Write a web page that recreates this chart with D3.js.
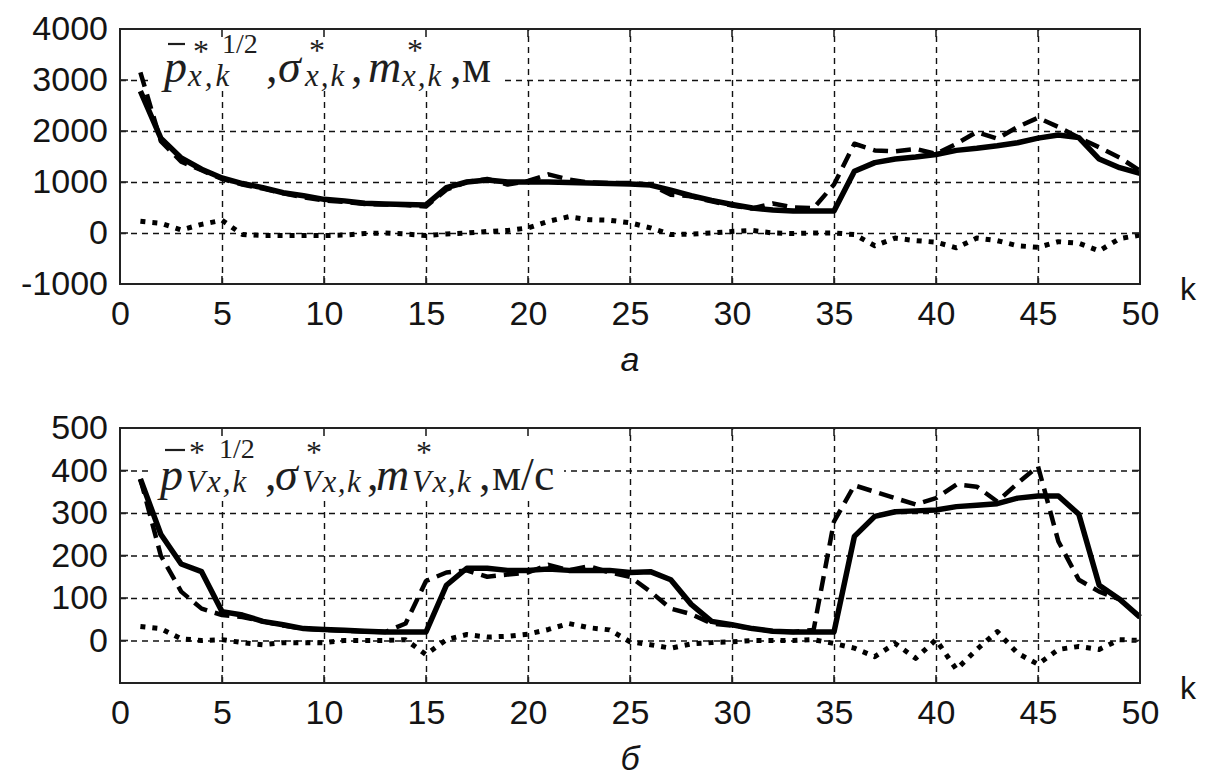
<!DOCTYPE html>
<html>
<head>
<meta charset="utf-8">
<script src="https://cdn.jsdelivr.net/npm/d3@7"></script>
<style>
  body { margin: 0; background: #fff; }
  svg { display: block; }
  .axis text { font-family: Arial, "Liberation Sans", sans-serif; font-size: 34px; fill: #141414; }
  .note { font-family: "Liberation Serif", "Times New Roman", serif; fill: #1e1e1e; }
</style>
</head>
<body>
<div id="chart"></div>
<script>
// k steps
const kSteps = [1, 2, 3, 4, 5, 6, 7, 8, 9, 10, 11, 12, 13, 14, 15, 16, 17, 18, 19, 20,
  21, 22, 23, 24, 25, 26, 27, 28, 29, 30, 31, 32, 33, 34, 35, 36, 37, 38, 39, 40,
  41, 42, 43, 44, 45, 46, 47, 48, 49, 50];

// panel a (coordinate x, m)
const posSolid = [2780, 1860, 1470, 1250, 1080, 970, 890, 790, 730, 660, 630, 585, 570, 560, 550, 890, 1000, 1040, 1000, 1000,
  1000, 990, 980, 970, 960, 940, 840, 730, 640, 560, 490, 450, 430, 430, 430, 1210, 1380, 1450, 1490, 1540,
  1620, 1660, 1710, 1770, 1860, 1920, 1870, 1450, 1280, 1170];
const posDashed = [3150, 1800, 1400, 1230, 1060, 950, 870, 780, 700, 640, 610, 570, 560, 550, 520, 850, 1000, 1060, 950, 1020,
  1150, 1050, 990, 980, 980, 950, 750, 720, 620, 540, 480, 580, 500, 490, 950, 1750, 1620, 1600, 1650, 1550,
  1750, 1980, 1850, 2080, 2260, 2080, 1870, 1680, 1480, 1220];
const posDotted = [230, 190, 60, 170, 250, -30, -50, -50, -50, -50, -40, -10, 0, -20, -50, -20, 0, 30, 50, 100,
  230, 320, 260, 250, 200, 100, -30, -20, 0, 30, 50, 0, -10, 0, 0, -30, -250, -100, -150, -180,
  -290, -100, -150, -250, -280, -170, -200, -350, -110, -40];

// panel b (velocity Vx, m/s)
const velSolid = [380, 250, 180, 162, 68, 60, 45, 37, 28, 26, 24, 22, 20, 20, 20, 130, 170, 170, 165, 165,
  168, 165, 165, 165, 160, 162, 143, 85, 45, 37, 28, 22, 20, 20, 20, 245, 292, 303, 305, 307,
  315, 318, 322, 335, 340, 340, 297, 130, 97, 55];
const velDashed = [380, 200, 115, 75, 60, 55, 45, 35, 28, 25, 23, 21, 20, 40, 140, 160, 165, 150, 155, 160,
  178, 165, 175, 160, 150, 115, 75, 62, 40, 35, 28, 22, 20, 25, 280, 365, 350, 335, 320, 335,
  367, 362, 327, 370, 410, 233, 143, 115, 97, 55];
const velDotted = [33, 28, 4, 0, 2, -5, -10, -5, -5, -5, 0, 0, 0, 2, -33, 2, 14, 8, 10, 15,
  26, 40, 30, 25, -3, -10, -18, -8, -5, -3, 0, 0, 0, 2, -7, -18, -38, -7, -42, 2,
  -68, -21, 21, -30, -56, -21, -14, -21, 2, 0];

const xTicks = [0, 5, 10, 15, 20, 25, 30, 35, 40, 45, 50];
const posTicks = [-1000, 0, 1000, 2000, 3000, 4000];
const velTicks = [0, 100, 200, 300, 400, 500];

const Width = 1205;
const Height = 776;
const Left = 120;
const Right = 1140;
const PlotH = 255;

const svg = d3.select('#chart')
  .append('svg')
  .attr('width', Width)
  .attr('height', Height);

const x = d3.scaleLinear().domain([0, 50]).range([Left, Right]);

const lineStyles = [
  { width: 5.5, dash: null },
  { width: 4.5, dash: '15,8' },
  { width: 5, dash: '5,7' }
];

function drawPanel(top, yDomain, yTicks, series, box, note, bar, caption) {
  const y = d3.scaleLinear().domain(yDomain).range([top + PlotH, top]);
  const g = svg.append('g');

  // dashed grid
  g.append('g')
    .attr('transform', `translate(0, ${top + PlotH})`)
    .call(d3.axisBottom(x).tickValues(xTicks.slice(1, -1)).tickSize(-PlotH).tickFormat(''))
    .call(s => s.select('.domain').remove())
    .selectAll('line')
    .attr('stroke', '#111').attr('stroke-width', 1.4).attr('stroke-dasharray', '6,5');
  g.append('g')
    .attr('transform', `translate(${Left}, 0)`)
    .call(d3.axisLeft(y).tickValues(yTicks.filter(v => v > yDomain[0] && v < yDomain[1])).tickSize(-(Right - Left)).tickFormat(''))
    .call(s => s.select('.domain').remove())
    .selectAll('line')
    .attr('stroke', '#111').attr('stroke-width', 1.4).attr('stroke-dasharray', '6,5');

  // white label box
  g.append('rect')
    .attr('x', box.x).attr('y', top + 1)
    .attr('width', box.w).attr('height', box.h)
    .attr('fill', '#fff');

  // curves
  series.forEach((vals, i) => {
    const line = d3.line()
      .x((d, j) => x(kSteps[j]))
      .y(d => y(d));
    g.append('path')
      .datum(vals)
      .attr('d', line)
      .attr('fill', 'none')
      .attr('stroke', '#000')
      .attr('stroke-width', lineStyles[i].width)
      .attr('stroke-linejoin', 'round')
      .attr('stroke-dasharray', lineStyles[i].dash);
  });

  // inward ticks on all four sides
  const tickLen = 8;
  const tk = g.append('g').attr('stroke', '#222').attr('stroke-width', 1.6);
  xTicks.forEach(v => {
    tk.append('line').attr('x1', x(v)).attr('x2', x(v)).attr('y1', top + PlotH).attr('y2', top + PlotH - tickLen);
    tk.append('line').attr('x1', x(v)).attr('x2', x(v)).attr('y1', top).attr('y2', top + tickLen);
  });
  yTicks.forEach(v => {
    tk.append('line').attr('x1', Left).attr('x2', Left + tickLen).attr('y1', y(v)).attr('y2', y(v));
    tk.append('line').attr('x1', Right).attr('x2', Right - tickLen).attr('y1', y(v)).attr('y2', y(v));
  });

  // box
  g.append('rect')
    .attr('x', Left).attr('y', top)
    .attr('width', Right - Left).attr('height', PlotH)
    .attr('fill', 'none').attr('stroke', '#222').attr('stroke-width', 2);

  // tick labels
  g.append('g')
    .attr('class', 'axis')
    .attr('transform', `translate(0, ${top + PlotH})`)
    .call(d3.axisBottom(x).tickValues(xTicks).tickSize(0).tickPadding(17).tickFormat(d => String(d)))
    .call(s => s.select('.domain').remove());
  g.append('g')
    .attr('class', 'axis')
    .attr('transform', `translate(${Left}, 0)`)
    .call(d3.axisLeft(y).tickValues(yTicks).tickSize(0).tickPadding(12).tickFormat(d => String(d)))
    .call(s => s.select('.domain').remove());

  g.append('text')
    .attr('x', 1180).attr('y', top + PlotH + 16)
    .style('font-family', 'Arial, "Liberation Sans", sans-serif')
    .style('font-size', '32px').attr('fill', '#141414')
    .text('k');

  g.append('text')
    .attr('x', 630).attr('y', top + PlotH + 87)
    .attr('text-anchor', 'middle')
    .style('font-family', 'Arial, "Liberation Sans", sans-serif')
    .style('font-size', '34px').style('font-style', 'italic').attr('fill', '#141414')
    .text(caption);

  // annotation: one text, pieces placed as tspans
  const nt = g.append('text').attr('class', 'note');
  note.forEach(p => {
    nt.append('tspan')
      .attr('x', p.x).attr('y', top + p.dy)
      .style('font-size', p.size + 'px')
      .style('font-style', p.italic ? 'italic' : 'normal')
      .style('letter-spacing', (p.ls || 0) + 'px')
      .text(p.t);
  });
  g.append('line')
    .attr('x1', bar.x1).attr('x2', bar.x2)
    .attr('y1', top + bar.dy).attr('y2', top + bar.dy)
    .attr('stroke', '#1e1e1e').attr('stroke-width', 2.2);
}

const noteA = [
  { t: 'p', x: 164, dy: 53, size: 46, italic: true },
  { t: '*', x: 193, dy: 33, size: 32 },
  { t: '1/2', x: 222, dy: 24, size: 28 },
  { t: 'x,k', x: 188, dy: 57, size: 31, italic: true, ls: 3 },
  { t: ',', x: 266, dy: 53, size: 46 },
  { t: 'σ', x: 278, dy: 53, size: 46, italic: true },
  { t: '*', x: 309, dy: 32, size: 32 },
  { t: 'x,k', x: 305, dy: 57, size: 31, italic: true, ls: 2 },
  { t: ',', x: 351, dy: 53, size: 46 },
  { t: 'm', x: 368, dy: 53, size: 46, italic: true },
  { t: '*', x: 407, dy: 32, size: 32 },
  { t: 'x,k', x: 402, dy: 57, size: 31, italic: true, ls: 2 },
  { t: ',', x: 450, dy: 53, size: 46 },
  { t: 'м', x: 462, dy: 53, size: 46 }
];
const noteB = [
  { t: 'p', x: 160, dy: 62, size: 46, italic: true },
  { t: '*', x: 189, dy: 35, size: 32 },
  { t: '1/2', x: 219, dy: 30, size: 28 },
  { t: 'Vx,k', x: 186, dy: 64, size: 31, italic: true, ls: 2 },
  { t: ',', x: 265, dy: 62, size: 46 },
  { t: 'σ', x: 275, dy: 62, size: 46, italic: true },
  { t: '*', x: 306, dy: 35, size: 32 },
  { t: 'Vx,k', x: 302, dy: 64, size: 31, italic: true, ls: 1.5 },
  { t: ',', x: 367, dy: 62, size: 46 },
  { t: 'm', x: 376, dy: 62, size: 46, italic: true },
  { t: '*', x: 416, dy: 35, size: 32 },
  { t: 'Vx,k', x: 412, dy: 64, size: 31, italic: true, ls: 1.5 },
  { t: ',', x: 479, dy: 62, size: 46 },
  { t: 'м/с', x: 492, dy: 62, size: 46 }
];

drawPanel(29, [-1000, 4000], posTicks, [posSolid, posDashed, posDotted],
  { x: 148, w: 357, h: 61 }, noteA, { x1: 168, x2: 185, dy: 15 }, 'а');
drawPanel(428, [-100, 500], velTicks, [velSolid, velDashed, velDotted],
  { x: 148, w: 416, h: 68 }, noteB, { x1: 165, x2: 185, dy: 22 }, 'б');
</script>
</body>
</html>
